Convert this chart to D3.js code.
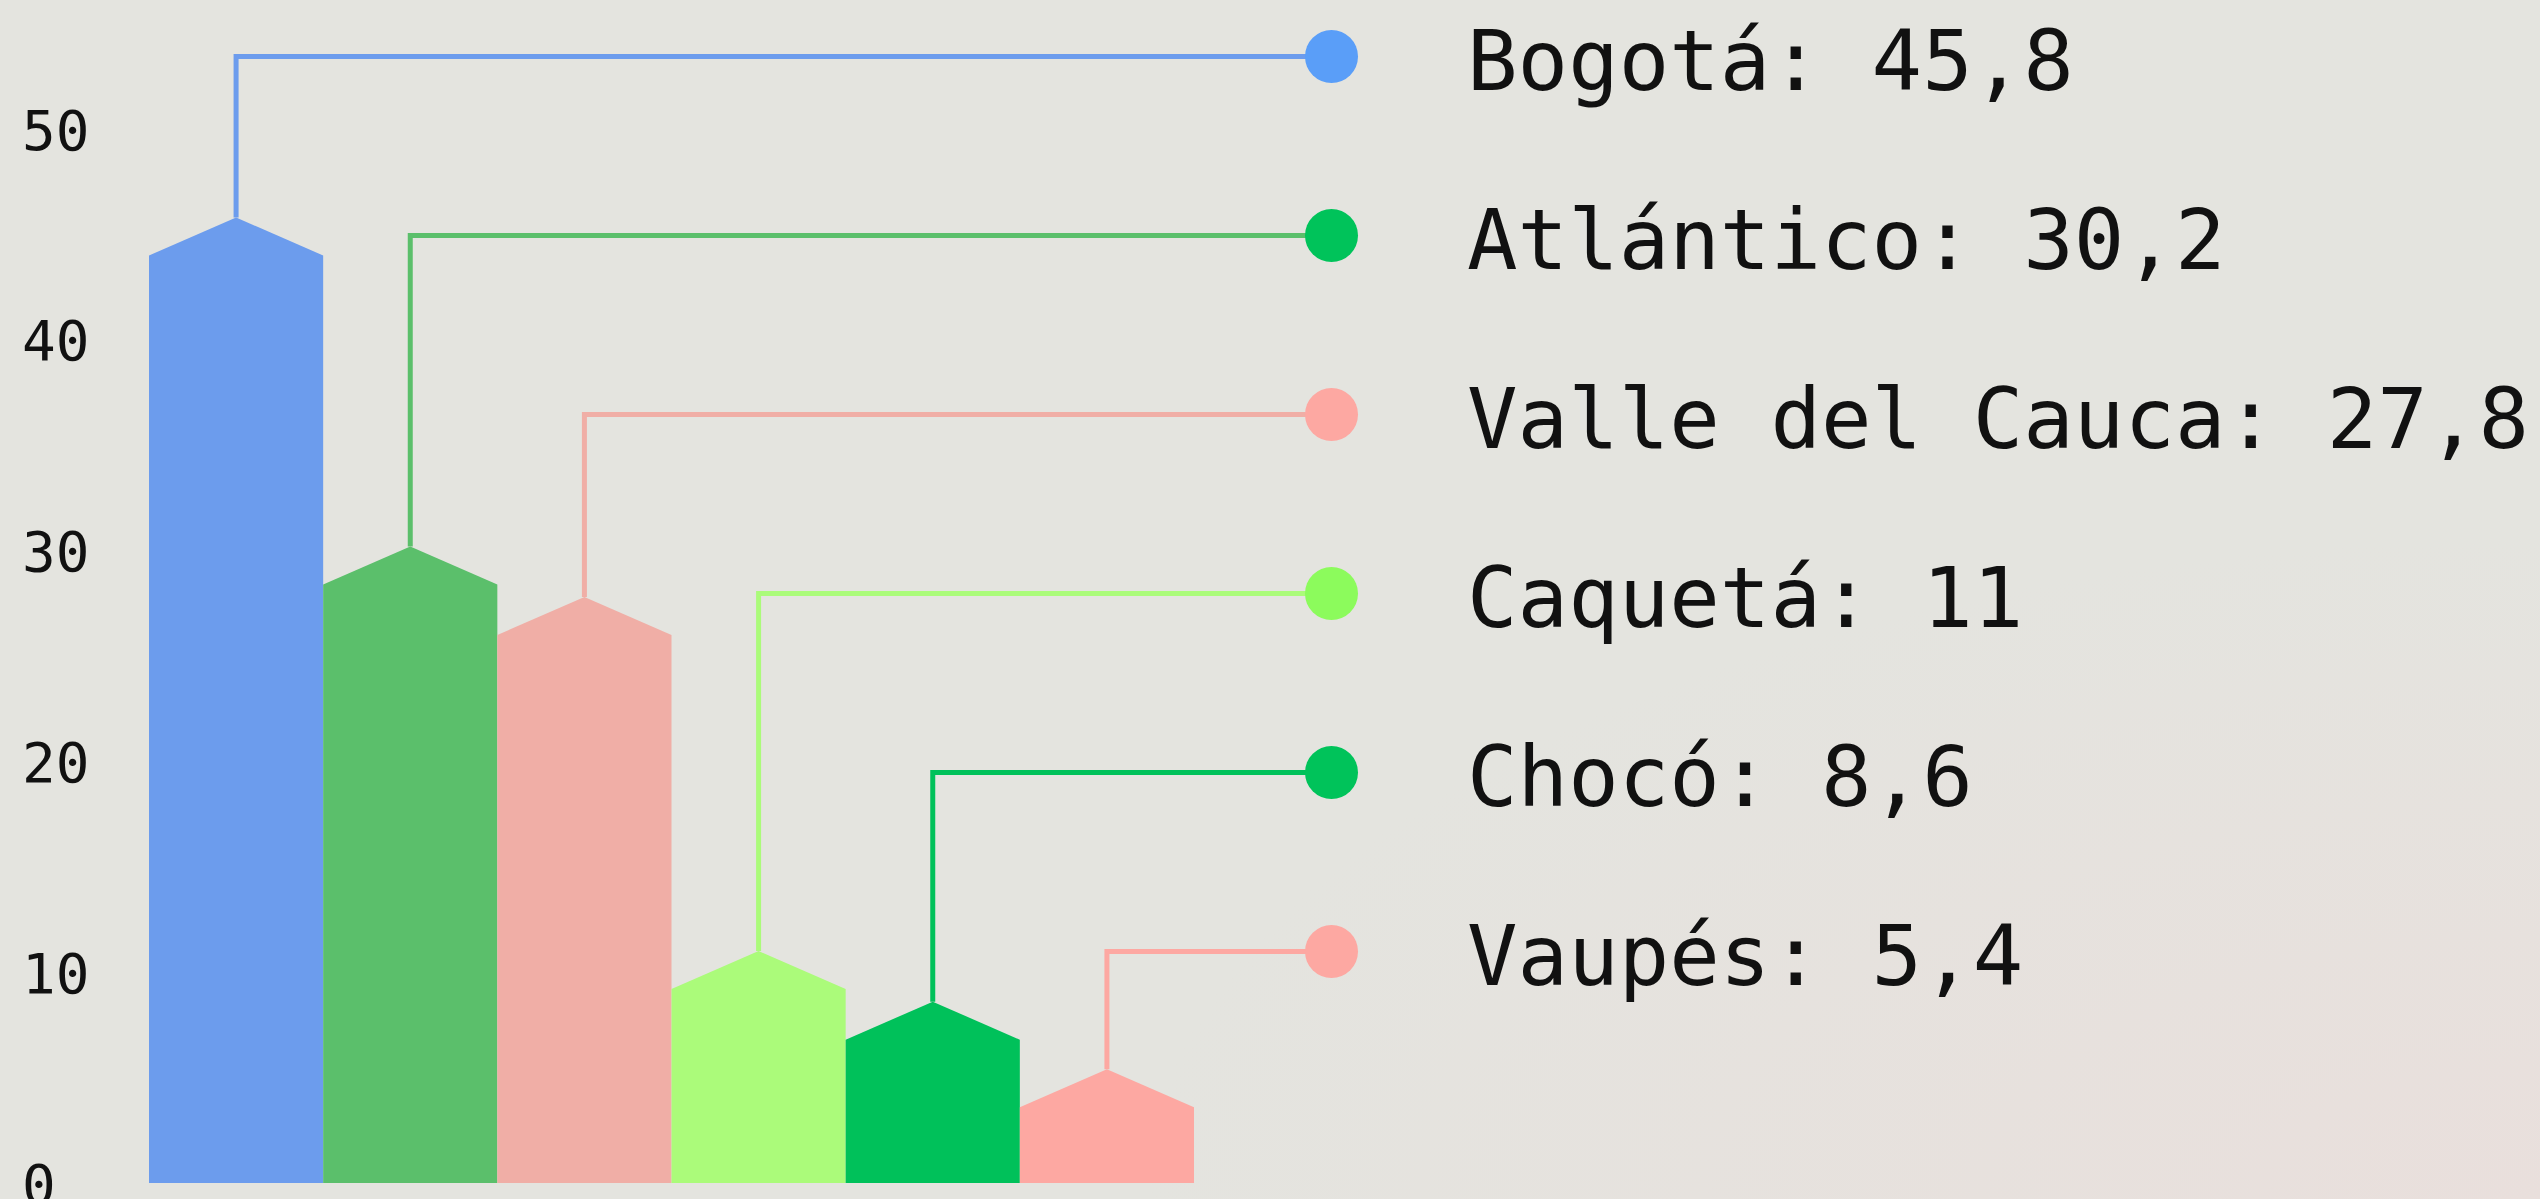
<!DOCTYPE html>
<html>
<head>
<meta charset="utf-8">
<script src="https://cdn.jsdelivr.net/npm/d3@7"></script>
<style>
  html, body { margin: 0; padding: 0; overflow: hidden; }
  body { width: 2540px; height: 1199px; }
  text { font-family: "DejaVu Sans Mono", "Liberation Mono", monospace; fill: #111; }
</style>
</head>
<body>
<div id="chart"></div>
<script>
/* global d3 */
(function() {

  const regions = ['Bogotá', 'Atlántico', 'Valle del Cauca', 'Caquetá', 'Chocó', 'Vaupés'];
  const values = [45.8, 30.2, 27.8, 11, 8.6, 5.4];
  const yTicks = [0, 10, 20, 30, 40, 50];
  const barColors = ['#6c9ced', '#5bbf6b', '#f0aea6', '#abfb7a', '#00c15a', '#fda8a2'];
  const dotColors = ['#5a9ef8', '#00c35a', '#fda8a2', '#8cfb5c', '#00c35a', '#fda8a2'];

  const width = 2540;
  const height = 1199;
  const capHeight = 38;

  const data = regions.map((name, i) => ({ name, value: values[i], bar: barColors[i], dot: dotColors[i] }));
  const fmt = d3.formatLocale({ decimal: ',', thousands: '.', grouping: [3], currency: ['', ''] }).format('~');

  let svg = d3.select('#chart')
    .append('svg:svg')
    .attr('width', width)
    .attr('height', height);

  let defs = svg.append('defs');
  let grad = defs.append('radialGradient')
    .attr('id', 'bg')
    .attr('cx', '100%').attr('cy', '100%').attr('r', '55%');
  grad.append('stop').attr('offset', '0%').attr('stop-color', '#e9dfdc');
  grad.append('stop').attr('offset', '100%').attr('stop-color', '#e4e4df');

  svg.append('rect')
    .attr('width', width)
    .attr('height', height)
    .attr('fill', 'url(#bg)');

  let x = d3.scaleBand().domain(regions).range([149, 1194]).padding(0);
  let y = d3.scaleLinear().domain([0, 50]).range([1183, 129]);
  let rowY = d3.scalePoint().domain(regions).range([56.5, 951.5]);
  const dotX = 1331.5;
  const labelX = 1467;

  // y axis: labels only
  let axis = svg.append('g')
    .attr('transform', 'translate(22,0)')
    .call(d3.axisLeft(y).tickValues(yTicks).tickSize(0).tickPadding(0));
  axis.select('.domain').remove();
  axis.selectAll('text')
    .attr('text-anchor', 'start')
    .attr('x', 0)
    .attr('dy', '0.36em')
    .style('font-family', '"DejaVu Sans Mono", monospace')
    .style('font-size', '56px')
    .attr('fill', '#111');

  // leader lines
  svg.selectAll('.leader')
    .data(data)
    .enter().append('path')
    .attr('class', 'leader')
    .attr('fill', 'none')
    .attr('stroke', d => d.bar)
    .attr('stroke-width', 5)
    .attr('d', d => {
      let cx = x(d.name) + x.bandwidth() / 2;
      return d3.line()([[cx, y(d.value)], [cx, rowY(d.name)], [dotX, rowY(d.name)]]);
    });

  // pointed bars
  svg.selectAll('.bar')
    .data(data)
    .enter().append('path')
    .attr('class', 'bar')
    .attr('fill', d => d.bar)
    .attr('d', d => {
      let x0 = x(d.name);
      let x1 = x0 + x.bandwidth();
      let top = y(d.value);
      return d3.line()([
        [x0, y(0)], [x0, top + capHeight], [(x0 + x1) / 2, top],
        [x1, top + capHeight], [x1, y(0)]
      ]) + 'Z';
    });

  svg.selectAll('.dot')
    .data(data)
    .enter().append('circle')
    .attr('class', 'dot')
    .attr('cx', dotX)
    .attr('cy', d => rowY(d.name))
    .attr('r', 26.5)
    .attr('fill', d => d.dot);

  svg.selectAll('.label')
    .data(data)
    .enter().append('text')
    .attr('class', 'label')
    .attr('x', labelX)
    .attr('y', d => rowY(d.name) + 33)
    .style('font-size', '84px')
    .text(d => `${d.name}: ${fmt(d.value)}`);

})();
</script>
</body>
</html>
